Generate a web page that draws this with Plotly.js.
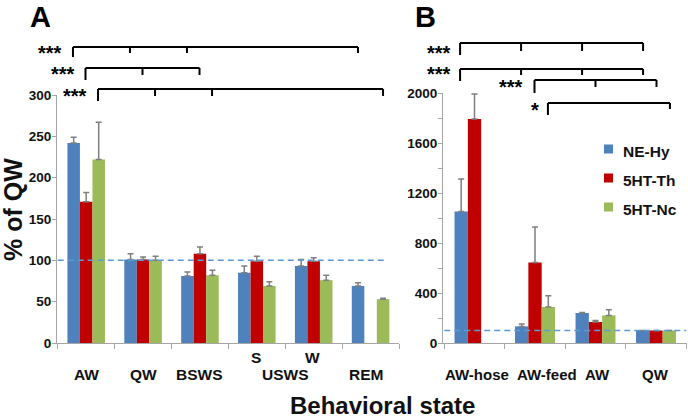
<!DOCTYPE html>
<html><head><meta charset="utf-8">
<script src="https://cdn.plot.ly/plotly-3.0.1.min.js"></script>
<style>html,body{margin:0;padding:0;background:#fff}</style>
</head><body><div id="chart" style="width:688px;height:419px"></div>
<script>
// ---------- data ----------
const seriesNames = ['NE-Hy', '5HT-Th', '5HT-Nc'];

// Panel A: % of QW by behavioral state
const catsA = ['AW', 'QW', 'BSWS', 'USWS S', 'USWS W', 'REM'];
const mainLabelA = ['AW', 'QW', 'BSWS', 'USWS', 'USWS', 'REM'];
const subLabelA = ['', '', '', 'S', 'W', ''];
const blueA = [242, 101, 81, 85, 93, 69];
const blueAErr = [7, 7, 5, 8, 8, 4];
const redA = [171, 101, 108, 99, 99, null];
const redAErr = [11, 3, 8, 6, 4, 0];
const greenA = [222, 100, 82, 69, 76, 53];
const greenAErr = [45, 5, 6, 5, 6, 1];

// Panel B
const catsB = ['AW-hose', 'AW-feed', 'AW', 'QW'];
const blueB = [1053, 133, 240, 100];
const blueBErr = [260, 19, 5, 0];
const redB = [1792, 645, 168, 100];
const redBErr = [200, 283, 13, 0];
const greenB = [null, 288, 221, 100];
const greenBErr = [0, 91, 46, 0];

const refLevel = 100;

// ---------- styling ----------
const W = 688, H = 419;
const colors = ['#4F81BD', '#C00000', '#9BBB59'];
const FONT = 'Liberation Sans, Arial, Helvetica, sans-serif';
const GAP = 0.34, SLOT = (1 - GAP) / 3;
const domA = [57 / W, 399 / W], domB = [443 / W, 687 / W];
const yPaper = p => (H - p) / H;
const domYA = [yPaper(343), yPaper(95)], domYB = [yPaper(343), yPaper(93)];
function xPaper(dom, n, cat, s) { return dom[0] + (cat + 0.5 + s * SLOT) / n * (dom[1] - dom[0]); }

function barTrace(x, y, err, i, xa, ya) {
  return {
    type: 'bar', x: x, y: y, name: seriesNames[i], xaxis: xa, yaxis: ya,
    marker: {color: colors[i], line: {width: 0}},
    error_y: {type: 'data', symmetric: false, array: err, arrayminus: err.map(() => 0),
              color: '#7f7f7f', thickness: 1.5, width: 3},
    showlegend: false, hoverinfo: 'skip'
  };
}

const data = [
  barTrace(catsA, blueA, blueAErr, 0, 'x', 'y'),
  barTrace(catsA, redA, redAErr, 1, 'x', 'y'),
  barTrace(catsA, greenA, greenAErr, 2, 'x', 'y'),
  barTrace(catsB, blueB, blueBErr, 0, 'x2', 'y2'),
  barTrace(catsB, redB, redBErr, 1, 'x2', 'y2'),
  barTrace(catsB, greenB, greenBErr, 2, 'x2', 'y2')
];

const axisGrey = '#a6a6a6';
const xCommon = {type: 'category', showline: true, linecolor: axisGrey, linewidth: 1,
  ticks: 'outside', tickson: 'boundaries', ticklen: 5, tickcolor: axisGrey,
  showticklabels: false, showgrid: false, zeroline: false, fixedrange: true};
const yCommon = {showline: true, linecolor: axisGrey, linewidth: 1, ticks: 'outside',
  ticklen: 4, tickcolor: axisGrey, showgrid: false, zeroline: false, ticklabelstandoff: -2,
  tickprefix: '<b>', ticksuffix: '</b>',
  tickfont: {family: FONT, size: 13.5, color: '#111', weight: 700}, fixedrange: true};

// ---------- significance brackets ----------
const bracketsA = [
  {s: -1, y: 47, cats: [0, 1, 2, 5], drops: [10, 6, 6, 6], sx: 64, sy: 48, t: '***'},
  {s: 0, y: 68, cats: [0, 1, 2], drops: [12, 7, 7], sx: 77, sy: 70, t: '***'},
  {s: 1, y: 89, cats: [0, 1, 2, 5], drops: [12, 7, 7, 7], sx: 89, sy: 92, t: '***'}
];
const bracketsB = [
  {s: -1, y: 43, cats: [0, 1, 2, 3], drops: [12, 8, 8, 8], sx: 453, sy: 48, t: '***'},
  {s: -1, y: 69, cats: [0, 1, 2, 3], drops: [12, 6, 6, 6], sx: 453, sy: 70, t: '***'},
  {s: 0, y: 80, cats: [1, 2, 3], drops: [13, 7, 7], sx: 525, sy: 83, t: '***'},
  {s: 1, y: 103, cats: [1, 3], drops: [12, 6], sx: 541, sy: 106, t: '*'}
];
const shapes = [];
const annotations = [];
function addBrackets(list, dom, n) {
  list.forEach(b => {
    const xs = b.cats.map(c => xPaper(dom, n, c, b.s));
    const ln = {color: '#000', width: 2};
    shapes.push({type: 'line', xref: 'paper', yref: 'paper', x0: xs[0], x1: xs[xs.length - 1],
      y0: yPaper(b.y), y1: yPaper(b.y), line: ln});
    xs.forEach((x, k) => shapes.push({type: 'line', xref: 'paper', yref: 'paper', x0: x, x1: x,
      y0: yPaper(b.y), y1: yPaper(b.y + b.drops[k]), line: ln}));
    annotations.push({xref: 'paper', yref: 'paper', x: b.sx / W, y: yPaper(b.sy + 4.5),
      xanchor: 'right', yanchor: 'middle', showarrow: false, text: '<b>' + b.t + '</b>',
      font: {family: FONT, size: 20, color: '#000', weight: 700}});
  });
}
addBrackets(bracketsA, domA, catsA.length);
addBrackets(bracketsB, domB, catsB.length);

// reference dashed lines at 100 %
shapes.push({type: 'line', xref: 'x', yref: 'y', x0: -0.5, x1: catsA.length - 0.7, y0: refLevel, y1: refLevel,
  line: {color: '#5B9BD5', width: 1.5, dash: '6px,4px'}, layer: 'above'});
shapes.push({type: 'line', xref: 'x2', yref: 'y2', x0: -0.5, x1: catsB.length - 0.5, y0: refLevel, y1: refLevel,
  line: {color: '#5B9BD5', width: 1.5, dash: '6px,4px'}, layer: 'above'});

// legend (drawn in panel B)
seriesNames.forEach((nm, i) => {
  const cy = 149 + i * 29;
  shapes.push({type: 'rect', xref: 'paper', yref: 'paper', x0: 604 / W, x1: 613 / W,
    y0: yPaper(cy + 4.5), y1: yPaper(cy - 4.5), fillcolor: colors[i], line: {width: 0}});
  annotations.push({xref: 'paper', yref: 'paper', x: 621 / W, y: yPaper(cy + 2), xanchor: 'left',
    yanchor: 'middle', showarrow: false, text: '<b>' + nm + '</b>',
    font: {family: FONT, size: 15.5, color: '#111', weight: 700}});
});

// category labels
const labFontA = {family: FONT, size: 15.5, color: '#111', weight: 700};
const labFontB = {family: FONT, size: 15, color: '#111', weight: 700};
const seen = {};
mainLabelA.forEach((lab, i) => { (seen[lab] = seen[lab] || []).push(i); });
Object.keys(seen).forEach(lab => {
  const idx = seen[lab];
  const pos = idx.reduce((a, b) => a + b, 0) / idx.length;
  annotations.push({xref: 'x', yref: 'paper', x: pos, y: yPaper(374), xanchor: 'center', yanchor: 'middle',
    xshift: lab === 'REM' ? -5 : 0, showarrow: false, text: '<b>' + lab + '</b>', font: labFontA});
});
subLabelA.forEach((lab, i) => {
  if (lab) annotations.push({xref: 'x', yref: 'paper', x: i, y: yPaper(357), xanchor: 'center',
    yanchor: 'middle', xshift: -1, showarrow: false, text: '<b>' + lab + '</b>', font: labFontA});
});
const shiftB = [2.5, 11.5, 1.5, -1];
catsB.forEach((c, i) => annotations.push({xref: 'x2', yref: 'paper', x: c, y: yPaper(374),
  xanchor: 'center', yanchor: 'middle', xshift: shiftB[i], showarrow: false, text: '<b>' + c + '</b>', font: labFontB}));

// titles / panel letters
annotations.push({xref: 'paper', yref: 'paper', x: 13 / W, y: yPaper(210), textangle: -90,
  xanchor: 'center', yanchor: 'middle', borderpad: 0,
  showarrow: false, text: '<b>% of QW</b>', font: {family: FONT, size: 25, color: '#111', weight: 700}});
annotations.push({xref: 'paper', yref: 'paper', x: 382 / W, y: yPaper(405), xanchor: 'center', yanchor: 'middle',
  borderpad: 0, showarrow: false, text: '<b>Behavioral state</b>', font: {family: FONT, size: 24, color: '#111', weight: 700}});
annotations.push({xref: 'paper', yref: 'paper', x: 40.5 / W, y: yPaper(17), xanchor: 'center', yanchor: 'middle',
  showarrow: false, text: '<b>A</b>', font: {family: FONT, size: 29, color: '#000', weight: 700}});
annotations.push({xref: 'paper', yref: 'paper', x: 425 / W, y: yPaper(17), xanchor: 'center', yanchor: 'middle',
  showarrow: false, text: '<b>B</b>', font: {family: FONT, size: 29, color: '#000', weight: 700}});

const layout = {
  width: W, height: H, margin: {l: 0, r: 0, t: 0, b: 0},
  paper_bgcolor: '#fff', plot_bgcolor: 'rgba(0,0,0,0)',
  barmode: 'group', bargap: GAP, bargroupgap: 0, showlegend: false,
  xaxis: Object.assign({}, xCommon, {domain: domA, anchor: 'y'}),
  xaxis2: Object.assign({}, xCommon, {domain: domB, anchor: 'y2'}),
  yaxis: Object.assign({}, yCommon, {domain: domYA, anchor: 'x', range: [0, 300], dtick: 50}),
  yaxis2: Object.assign({}, yCommon, {domain: domYB, anchor: 'x2', range: [0, 2000], dtick: 400,
    minor: {dtick: 200, ticks: 'outside', ticklen: 4, tickcolor: axisGrey}}),
  shapes: shapes, annotations: annotations
};
Plotly.newPlot('chart', data, layout, {displayModeBar: false, staticPlot: true});
</script></body></html>
